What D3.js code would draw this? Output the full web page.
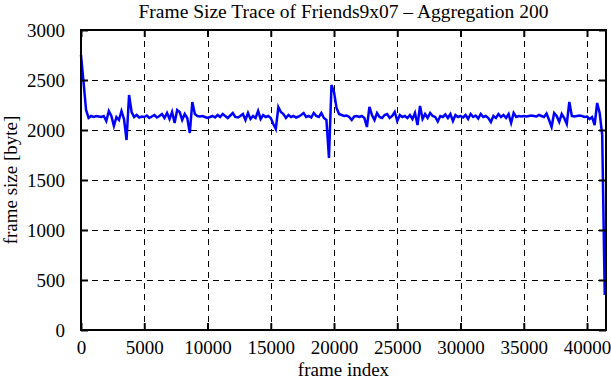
<!DOCTYPE html>
<html>
<head>
<meta charset="utf-8">
<script src="https://cdn.jsdelivr.net/npm/d3@7/dist/d3.min.js"></script>
<style>
  html, body { margin: 0; padding: 0; background: #fff; }
  svg text { font-family: "Liberation Serif", "DejaVu Serif", serif; fill: #000; }
</style>
</head>
<body>
<svg id="chart" width="611" height="380"></svg>
<script>
"use strict";

var TITLE = "Frame Size Trace of Friends9x07 \u2013 Aggregation 200";
var X_LABEL = "frame index";
var Y_LABEL = "frame size [byte]";
var AGGREGATION = 200;        // frames per aggregated point
var X_MAX = 41500;
var Y_MAX = 3000;
var xTicks = [ 0, 5000, 10000, 15000, 20000, 25000, 30000, 35000, 40000 ];
var yTicks = [ 0, 500, 1000, 1500, 2000, 2500, 3000 ];

// mean frame size of each block of 200 frames
var frameSize = [
  2750, 2480, 2200, 2120, 2140, 2130, 2140, 2135, 2130, 2140,
  2090, 2190, 2140, 2040, 2130, 2100, 2190, 2110, 1900, 2350,
  2180, 2130, 2150, 2125, 2135,
  2130, 2145, 2120, 2135, 2150, 2125, 2140, 2160, 2120, 2170,
  2110, 2180, 2070, 2200, 2180, 2100, 2160, 2120, 1970, 2280,
  2160, 2140, 2135, 2140, 2130,
  2120, 2130, 2140, 2125, 2150, 2130, 2160, 2140, 2120, 2145,
  2170, 2130, 2125, 2140, 2160, 2100, 2170, 2110, 2140, 2120,
  2190, 2110, 2150, 2130, 2140,
  2120, 2060, 2010, 2230, 2180, 2160, 2120, 2150, 2130, 2140,
  2125, 2135, 2150, 2170, 2130, 2140, 2125, 2170, 2140, 2130,
  2170, 2120, 2100, 1720, 2450,
  2380, 2220, 2160, 2150, 2140, 2145, 2130, 2100, 2135, 2140,
  2130, 2140, 2120, 2030, 2230, 2150, 2100, 2170, 2130, 2120,
  2150, 2160, 2120, 2140, 2180,
  2090, 2150, 2130, 2140, 2120, 2150, 2110, 2170, 2050, 2240,
  2110, 2160, 2120, 2170, 2140, 2130, 2085, 2140, 2130, 2155,
  2120, 2160, 2090, 2150, 2130,
  2140, 2125, 2150, 2110, 2160, 2130, 2145, 2115, 2160, 2130,
  2140, 2120, 2080, 2140, 2120, 2160, 2130, 2150, 2120, 2160,
  2070, 2170, 2130, 2140, 2135,
  2140, 2135, 2140, 2145, 2140, 2135, 2150, 2140, 2130, 2165,
  2100, 2030, 2170, 2140, 2080, 2160, 2120, 2060, 2280, 2140,
  2135, 2140, 2145, 2140, 2130,
  2135, 2110, 2130, 2050, 2270, 2170, 1950, 350
];

var margin = { top: 30, right: 5, bottom: 50, left: 81 };
var svg = d3.select( "#chart" );
var width = +svg.attr( "width" ) - margin.left - margin.right;
var height = +svg.attr( "height" ) - margin.top - margin.bottom;

var x = d3.scaleLinear().domain( [ 0, X_MAX ] ).range( [ 0, width ] );
var y = d3.scaleLinear().domain( [ 0, Y_MAX ] ).range( [ height, 0 ] );

var g = svg.append( "g" )
  .attr( "transform", "translate(" + margin.left + "," + margin.top + ")" );

// dashed grid, snapped to whole pixels so it stays black
function px( v ) { return Math.round( v ) + 0.5; }
g.append( "g" ).selectAll( "line" )
  .data( xTicks.filter( function( d ) { return d > 0; } ) )
  .join( "line" )
  .attr( "x1", function( d ) { return px( x( d ) ); } )
  .attr( "x2", function( d ) { return px( x( d ) ); } )
  .attr( "y1", 0 ).attr( "y2", height )
  .attr( "stroke", "#000" ).attr( "stroke-width", 1 )
  .attr( "stroke-dasharray", "6,5" );
g.append( "g" ).selectAll( "line" )
  .data( yTicks.filter( function( d ) { return d > 0 && d < Y_MAX; } ) )
  .join( "line" )
  .attr( "x1", 0 ).attr( "x2", width )
  .attr( "y1", function( d ) { return px( y( d ) ); } )
  .attr( "y2", function( d ) { return px( y( d ) ); } )
  .attr( "stroke", "#000" ).attr( "stroke-width", 1 )
  .attr( "stroke-dasharray", "6,5" );

// the trace
var line = d3.line()
  .x( function( d, i ) { return x( i * AGGREGATION ); } )
  .y( function( d ) { return y( d ); } );
g.append( "path" )
  .datum( frameSize )
  .attr( "d", line )
  .attr( "fill", "none" )
  .attr( "stroke", "#0000ff" )
  .attr( "stroke-width", 2.5 )
  .attr( "stroke-linejoin", "miter" );

// axes with inward ticks, mirrored on top and right
function styleAxis( sel ) {
  sel.select( ".domain" ).remove();
  sel.selectAll( ".tick line" ).attr( "stroke", "#000" ).attr( "stroke-width", 2 );
  sel.selectAll( ".tick text" ).style( "font-size", "19px" );
}
g.append( "g" )
  .attr( "transform", "translate(0," + height + ")" )
  .call( d3.axisBottom( x ).tickValues( xTicks ).tickSize( -7 ).tickPadding( 11 ).tickFormat( d3.format( "d" ) ) )
  .call( styleAxis );
g.append( "g" )
  .call( d3.axisTop( x ).tickValues( xTicks ).tickSize( -7 ).tickFormat( "" ) )
  .call( styleAxis );
g.append( "g" )
  .call( d3.axisLeft( y ).tickValues( yTicks ).tickSize( -7 ).tickPadding( 16 ).tickFormat( d3.format( "d" ) ) )
  .call( styleAxis );
g.append( "g" )
  .attr( "transform", "translate(" + width + ",0)" )
  .call( d3.axisRight( y ).tickValues( yTicks ).tickSize( -7 ).tickFormat( "" ) )
  .call( styleAxis );

// frame
g.append( "rect" )
  .attr( "width", width ).attr( "height", height )
  .attr( "fill", "none" ).attr( "stroke", "#000" ).attr( "stroke-width", 2 );

// labels
svg.append( "text" )
  .attr( "x", margin.left + width / 2 ).attr( "y", 18 )
  .attr( "text-anchor", "middle" ).style( "font-size", "19.5px" )
  .text( TITLE );
svg.append( "text" )
  .attr( "x", margin.left + width / 2 ).attr( "y", 376 )
  .attr( "text-anchor", "middle" ).style( "font-size", "19px" )
  .text( X_LABEL );
svg.append( "text" )
  .attr( "transform", "translate(17," + ( margin.top + height / 2 ) + ") rotate(-90)" )
  .attr( "text-anchor", "middle" ).style( "font-size", "19px" )
  .text( Y_LABEL );
</script>
</body>
</html>
